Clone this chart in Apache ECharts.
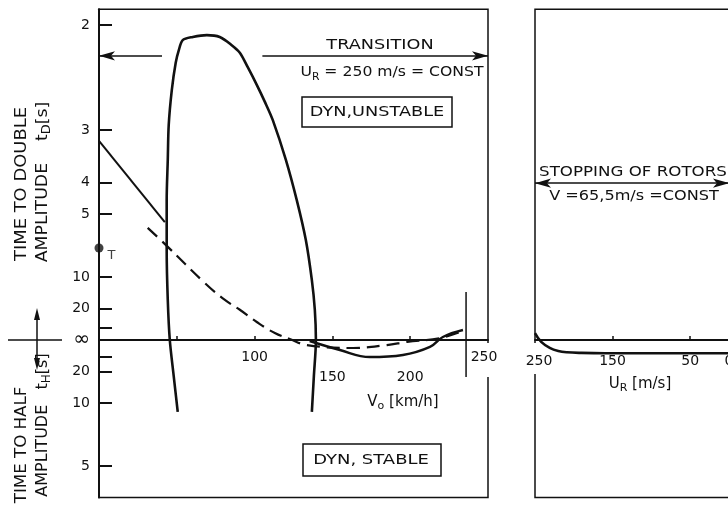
<!DOCTYPE html>
<html><head><meta charset="utf-8">
<script src="https://cdn.jsdelivr.net/npm/echarts@6/dist/echarts.min.js"></script>
<style>html,body{margin:0;padding:0;background:#fff}#c{width:728px;height:512px}</style>
</head><body><div id="c"></div>
<script>
// ---------------- data ----------------
// y value = inverse time 1/t [1/s]; positive = time to double, negative = time to half
const tDoubleTicks = [2, 3, 4, 5, 10, 20];
const tHalfTicks = [20, 10, 5];
const yMinorTicks = [0.02, -0.027];

// left panel: V0 [km/h]
const v0Ticks = [50, 100, 150, 200];
const v0Labels = [100, 150, 200, 250];
const v0LabelsLowered = [150, 200];

// boundary loop
const loopV    = [50.6, 48.0, 45.5, 44.2, 43.5, 43.5, 44.2, 44.8, 46.8, 49.3, 51.3, 53.8, 60.3, 69.3, 77.6, 85.3, 90.5, 95.6, 101.4, 106.6, 111.7, 120.1, 127.1, 132.9, 136.8, 138.7, 139.4, 138.1, 136.8];
const loopRate = [-0.114, -0.057, 0, 0.0635, 0.143, 0.222, 0.286, 0.341, 0.397, 0.440, 0.460, 0.476, 0.481, 0.484, 0.481, 0.468, 0.456, 0.433, 0.405, 0.378, 0.349, 0.286, 0.222, 0.159, 0.095, 0.048, 0, -0.057, -0.114];

// solid curve, upper left part
const solidUpV    = [0, 42.3];
const solidUpRate = [0.316, 0.187];

// solid curve, lower right part
const solidLowV    = [135.4, 154.8, 174.1, 195.3, 212.7, 221.0, 233.9];
const solidLowRate = [-0.0016, -0.0159, -0.027, -0.0238, -0.011, 0.0048, 0.0159];

// dashed curve
const dashV    = [31.3, 42.9, 68.0, 80.9, 90.5, 101.4, 113.0, 122.6, 133.6, 163.2, 185.0, 198.0, 219.0, 233.9];
const dashRate = [0.178, 0.151, 0.0905, 0.0635, 0.048, 0.0286, 0.011, 0.0016, -0.008, -0.0127, -0.008, -0.003, 0.003, 0.0143];

// vertical end marker
const endMarkV = 235.9;
const endMarkRate = [0.076, -0.0587];

// point T
const pointT = [0, 0.146];

// transition arrow
const transitionRate = 0.451;
const transitionGap = [40.5, 105];

// right panel: U_R [m/s]
const urLabels = [250, 150, 50, 0];
const urTicks = [150, 50];
const stopUr   = [250, 242, 231, 220, 209, 190, 160, 0];
const stopRate = [0.011, -0.003, -0.0125, -0.0175, -0.0195, -0.0205, -0.021, -0.021];
const stoppingRate = 0.249;

// ---------------- chart ----------------
const FONT = 'DejaVu Sans';
const INK = '#111';
const zip = (a, b) => a.map((v, i) => [v, b[i]]);

const yLabelVals = tDoubleTicks.map(t => 1 / t).concat([0], tHalfTicks.map(t => -1 / t));
const yTickVals = yLabelVals.concat(yMinorTicks);

const Y_MIN = -0.25, Y_MAX = 0.525;
const GRID_TOP = 9.25, GRID_BOTTOM = 14.5, H = 512;
const gridH = H - GRID_TOP - GRID_BOTTOM;
// shift the x axes up so they sit on the zero line (infinite time)
const zeroOffset = -gridH * (0 - Y_MIN) / (Y_MAX - Y_MIN);

const chart = echarts.init(document.getElementById('c'), null, {renderer: 'canvas'});

const gridCommon = {top: GRID_TOP, bottom: GRID_BOTTOM, show: true, borderColor: INK, borderWidth: 1.5,
  backgroundColor: 'transparent', containLabel: false, outerBoundsMode: 'none'};

const subRich = (fs) => ({
  n: {fontSize: fs, fontFamily: FONT, lineHeight: 20, fill: INK},
  s: {fontSize: Math.round(fs * 0.72), fontFamily: FONT, verticalAlign: 'bottom', lineHeight: 12, fill: INK}
});
const txt = (x, y, text, opts) => Object.assign({type: 'text', x: x, y: y,
  style: Object.assign({text: text, fontFamily: FONT, fontSize: 14, fill: INK, align: 'center', verticalAlign: 'middle'}, (opts && opts.style) || {})},
  (opts && opts.el) || {});

const option = {
  animation: false,
  backgroundColor: '#fff',
  grid: [
    Object.assign({left: 99, width: 389}, gridCommon),
    Object.assign({left: 535, width: 211}, gridCommon)
  ],
  xAxis: [
    {
      gridIndex: 0, type: 'value', min: 0, max: 250, position: 'bottom', offset: zeroOffset,
      axisLine: {onZero: false, lineStyle: {color: INK, width: 2}},
      splitLine: {show: false},
      axisTick: {show: true, customValues: v0Ticks, length: 4, inside: true, lineStyle: {color: INK, width: 1.5}},
      axisLabel: {
        customValues: v0Labels, margin: 3, color: INK, fontFamily: FONT, fontSize: 14,
        formatter: v => v === 250 ? '{edge|' + v + '}' : (v0LabelsLowered.includes(v) ? '{lo|' + v + '}' : '{hi|' + v + '}'),
        rich: {
          hi: {padding: [7, 0, 0, 0], fontFamily: FONT, fontSize: 14, color: INK},
          lo: {padding: [27, 0, 0, 0], fontFamily: FONT, fontSize: 14, color: INK},
          edge: {padding: [7, 8, 13, 0], backgroundColor: '#fff', fontFamily: FONT, fontSize: 14, color: INK}
        }
      }
    },
    {
      gridIndex: 1, type: 'value', min: -22, max: 250, inverse: true, position: 'bottom', offset: zeroOffset,
      axisLine: {onZero: false, lineStyle: {color: INK, width: 2}},
      splitLine: {show: false},
      axisTick: {show: true, customValues: urTicks, length: 4, inside: true, lineStyle: {color: INK, width: 1.5}},
      axisLabel: {
        customValues: urLabels, margin: 3, color: INK, fontFamily: FONT, fontSize: 14,
        formatter: v => v === 250 ? '{edge|' + v + '}' : '{hi|' + v + '}',
        rich: {
          hi: {padding: [11, 0, 0, 0], fontFamily: FONT, fontSize: 14, color: INK},
          edge: {padding: [11, 0, 6, 8], backgroundColor: '#fff', fontFamily: FONT, fontSize: 14, color: INK}
        }
      }
    }
  ],
  yAxis: [
    {
      gridIndex: 0, type: 'value', min: Y_MIN, max: Y_MAX,
      axisLine: {show: true, lineStyle: {color: INK, width: 2}},
      splitLine: {show: false},
      axisTick: {show: true, customValues: yTickVals, inside: true, length: 13, lineStyle: {color: INK, width: 2}},
      axisLabel: {
        customValues: yLabelVals, margin: 9, color: INK, fontFamily: FONT, fontSize: 14,
        formatter: v => Math.abs(v) < 1e-9 ? '{inf|∞}' : String(Math.round(1 / Math.abs(v))),
        rich: {inf: {fontSize: 20, fontFamily: FONT, color: INK}}
      }
    },
    {
      gridIndex: 1, type: 'value', min: Y_MIN, max: Y_MAX,
      axisLine: {show: true, lineStyle: {color: INK, width: 1.5}},
      splitLine: {show: false}, axisTick: {show: false}, axisLabel: {show: false}
    }
  ],
  series: [
    {
      name: 'boundary', type: 'line', xAxisIndex: 0, yAxisIndex: 0, smooth: 0.3, showSymbol: false,
      data: zip(loopV, loopRate), lineStyle: {color: INK, width: 2.6}
    },
    {
      name: 'solid upper', type: 'line', xAxisIndex: 0, yAxisIndex: 0, showSymbol: false,
      data: zip(solidUpV, solidUpRate), lineStyle: {color: INK, width: 2}
    },
    {
      name: 'solid lower', type: 'line', xAxisIndex: 0, yAxisIndex: 0, smooth: 0.4, showSymbol: false,
      data: zip(solidLowV, solidLowRate), lineStyle: {color: INK, width: 2.4}
    },
    {
      name: 'dashed', type: 'line', xAxisIndex: 0, yAxisIndex: 0, smooth: 0.4, showSymbol: false,
      data: zip(dashV, dashRate), lineStyle: {color: INK, width: 2.2, type: [13, 7]}
    },
    {
      name: 'end marker', type: 'line', xAxisIndex: 0, yAxisIndex: 0, showSymbol: false,
      data: endMarkRate.map(r => [endMarkV, r]), lineStyle: {color: INK, width: 1.5}
    },
    {
      name: 'T', type: 'scatter', xAxisIndex: 0, yAxisIndex: 0, symbol: 'circle', symbolSize: 9,
      itemStyle: {color: INK}, data: [pointT],
      label: {show: true, formatter: 'T', position: 'right', offset: [-1, 8], color: INK, fontFamily: FONT, fontSize: 13}
    },
    {
      name: 'transition', type: 'line', xAxisIndex: 0, yAxisIndex: 0, data: [], showSymbol: false,
      markLine: {
        silent: true, symbolSize: [7, 16], label: {show: false},
        lineStyle: {color: INK, width: 1.5, type: 'solid'},
        data: [
          [{coord: [0, transitionRate], symbol: 'arrow'}, {coord: [transitionGap[0], transitionRate], symbol: 'none'}],
          [{coord: [transitionGap[1], transitionRate], symbol: 'none'}, {coord: [250, transitionRate], symbol: 'arrow'}]
        ]
      }
    },
    {
      name: 'stopping curve', type: 'line', xAxisIndex: 1, yAxisIndex: 1, smooth: 0.4, showSymbol: false,
      data: zip(stopUr, stopRate), lineStyle: {color: INK, width: 2.6}
    },
    {
      name: 'stopping', type: 'line', xAxisIndex: 1, yAxisIndex: 1, data: [], showSymbol: false,
      markLine: {
        silent: true, symbolSize: [7, 16], label: {show: false},
        lineStyle: {color: INK, width: 1.5, type: 'solid'},
        data: [[{coord: [250, stoppingRate], symbol: 'arrow'}, {coord: [0, stoppingRate], symbol: 'arrow'}]]
      }
    }
  ],
  graphic: [
    // left axis titles (rotated)
    txt(22, 184, 'TIME TO DOUBLE', {style: {fontSize: 16}, el: {rotation: Math.PI / 2, scaleX: 1.12}}),
    txt(43, 182, '{n|AMPLITUDE}    {n|t}{s|D}{n|[s]}', {style: {fontSize: 16, rich: subRich(16)}, el: {rotation: Math.PI / 2, scaleX: 1.08}}),
    txt(22, 445, 'TIME TO HALF', {style: {fontSize: 16}, el: {rotation: Math.PI / 2, scaleX: 1.04}}),
    txt(43, 425, '{n|AMPLITUDE}   {n|t}{s|H}{n|[s]}', {style: {fontSize: 16, rich: subRich(16)}, el: {rotation: Math.PI / 2, scaleX: 1.0}}),
    // direction symbol
    {type: 'line', shape: {x1: 8, y1: 340, x2: 62, y2: 340}, style: {stroke: INK, lineWidth: 1.5}},
    {type: 'line', shape: {x1: 37, y1: 314, x2: 37, y2: 364}, style: {stroke: INK, lineWidth: 1.5}},
    {type: 'polygon', shape: {points: [[37, 308], [34, 320], [40, 320]]}, style: {fill: INK}},
    {type: 'polygon', shape: {points: [[37, 370], [34, 358], [40, 358]]}, style: {fill: INK}},
    // annotations left panel
    txt(380, 45, 'TRANSITION', {style: {fontSize: 14.5}, el: {scaleX: 1.22}}),
    txt(392, 72, '{n|U}{s|R}{n| = 250 m/s = CONST}', {style: {fontSize: 14.5, rich: subRich(14.5)}, el: {scaleX: 1.08}}),
    {type: 'rect', shape: {x: 302, y: 97, width: 150, height: 30}, style: {fill: 'none', stroke: INK, lineWidth: 1.5}},
    txt(377, 112, 'DYN,UNSTABLE', {style: {fontSize: 14.5}, el: {scaleX: 1.22}}),
    {type: 'rect', shape: {x: 303, y: 444, width: 138, height: 32}, style: {fill: 'none', stroke: INK, lineWidth: 1.5}},
    txt(371, 460, 'DYN, STABLE', {style: {fontSize: 14.5}, el: {scaleX: 1.24}}),
    txt(403, 402, '{n|V}{s|o}{n| [km/h]}', {style: {fontSize: 15, rich: subRich(15)}, el: {scaleX: 1.0}}),
    // annotations right panel
    txt(633, 172, 'STOPPING OF ROTORS', {style: {fontSize: 14.5}, el: {scaleX: 1.15}}),
    txt(634, 196, 'V =65,5m/s =CONST', {style: {fontSize: 14}, el: {scaleX: 1.15}}),
    txt(640, 384, '{n|U}{s|R}{n| [m/s]}', {style: {fontSize: 15, rich: subRich(15)}})
  ]
};
chart.setOption(option);
</script>
</body></html>
